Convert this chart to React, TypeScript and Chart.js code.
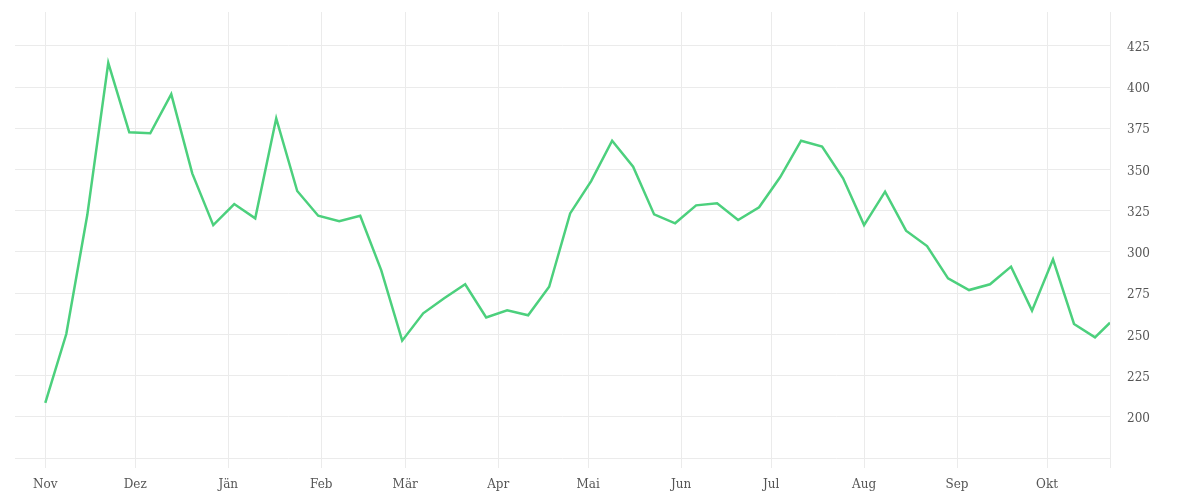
import React, { useEffect, useRef } from "react";
import { Chart, registerables } from "chart.js";

Chart.register(...registerables);

const dates: string[] = [
  "2022-11-01", "2022-11-08", "2022-11-15", "2022-11-22", "2022-11-29",
  "2022-12-06", "2022-12-13", "2022-12-20", "2022-12-27",
  "2023-01-03", "2023-01-10", "2023-01-17", "2023-01-24", "2023-01-31",
  "2023-02-07", "2023-02-14", "2023-02-21", "2023-02-28",
  "2023-03-07", "2023-03-14", "2023-03-21", "2023-03-28",
  "2023-04-04", "2023-04-11", "2023-04-18", "2023-04-25",
  "2023-05-02", "2023-05-09", "2023-05-16", "2023-05-23", "2023-05-30",
  "2023-06-06", "2023-06-13", "2023-06-20", "2023-06-27",
  "2023-07-04", "2023-07-11", "2023-07-18", "2023-07-25",
  "2023-08-01", "2023-08-08", "2023-08-15", "2023-08-22", "2023-08-29",
  "2023-09-05", "2023-09-12", "2023-09-19", "2023-09-26",
  "2023-10-03", "2023-10-10", "2023-10-17", "2023-10-22",
];

const values: number[] = [
  208.5, 250.2, 322.4, 414.8, 372.6, 372.0, 395.8, 347.7, 316.3, 329.1,
  320.4, 381.1, 337.0, 322.0, 318.6, 322.0, 289.0, 246.2, 262.8, 271.9,
  280.4, 260.3, 264.6, 261.6, 278.9, 323.4, 343.0, 367.5, 351.7, 322.8,
  317.4, 328.3, 329.5, 319.4, 327.1, 345.3, 367.5, 363.9, 344.7, 316.3,
  336.6, 312.9, 303.6, 284.0, 276.9, 280.4, 291.1, 264.4, 295.5, 256.3,
  248.2, 257.1,
];

const monthStarts: string[] = [
  "2022-11-01", "2022-12-01", "2023-01-01", "2023-02-01", "2023-03-01", "2023-04-01",
  "2023-05-01", "2023-06-01", "2023-07-01", "2023-08-01", "2023-09-01", "2023-10-01",
];
const monthLabels: string[] = [
  "Nov", "Dez", "Jän", "Feb", "Mär", "Apr", "Mai", "Jun", "Jul", "Aug", "Sep", "Okt",
];

const yTicks: number[] = [175, 200, 225, 250, 275, 300, 325, 350, 375, 400, 425];

const DAY = 86400000;
const origin = Date.parse(dates[0]);
const toDay = (d: string) => Math.round((Date.parse(d) - origin) / DAY);

const FONT = { family: "'DejaVu Serif', serif", size: 12 };
const GRID = "#ebebeb";

export default function App() {
  const ref = useRef<HTMLCanvasElement | null>(null);

  useEffect(() => {
    if (!ref.current) return;
    const points = dates.map((d, i) => ({ x: toDay(d), y: values[i] }));
    const monthDays = monthStarts.map(toDay);
    const lastDay = toDay(dates[dates.length - 1]);
    const labelMap = new Map<number, string>();
    monthDays.forEach((d, i) => labelMap.set(d, monthLabels[i]));

    const chart = new Chart(ref.current, {
      type: "line",
      data: {
        datasets: [
          {
            data: points,
            borderColor: "#4cd07d",
            backgroundColor: "#4cd07d",
            borderWidth: 2.5,
            pointRadius: 0,
            tension: 0,
            fill: false,
          },
        ],
      },
      options: {
        animation: false,
        responsive: true,
        maintainAspectRatio: false,
        layout: { padding: { left: 7, top: 4, right: 0, bottom: 0 } },
        plugins: { legend: { display: false }, tooltip: { enabled: false } },
        scales: {
          x: {
            type: "linear",
            min: -10.1,
            max: lastDay,
            afterBuildTicks: (s: any) => {
              s.ticks = [...monthDays, lastDay].map((v) => ({ value: v }));
            },
            afterFit: (s: any) => {
              s.height = 34;
              s.paddingLeft = 0;
              s.paddingRight = 0;
            },
            ticks: {
              autoSkip: false,
              maxRotation: 0,
              padding: 10,
              color: "#555",
              font: FONT,
              callback: (v: any) => labelMap.get(Number(v)) ?? "",
            },
            grid: { color: GRID, lineWidth: 1, tickLength: 10, drawTicks: true },
            border: { display: false },
          },
          y: {
            type: "linear",
            position: "right",
            min: 175,
            max: 445.6,
            afterBuildTicks: (s: any) => {
              s.ticks = yTicks.map((v) => ({ value: v }));
            },
            afterFit: (s: any) => {
              s.width = 82;
              s.paddingTop = 0;
              s.paddingBottom = 0;
            },
            ticks: {
              padding: 17,
              labelOffset: 2,
              color: "#555",
              font: FONT,
              callback: (v: any) => (Number(v) === 175 ? "" : String(v)),
            },
            grid: { color: GRID, lineWidth: 1, drawTicks: false },
            border: { display: false },
          },
        },
      },
    });
    return () => chart.destroy();
  }, []);

  return (
    <div style={{ position: "relative", width: 1184, height: 484 }}>
      <canvas ref={ref} />
    </div>
  );
}
